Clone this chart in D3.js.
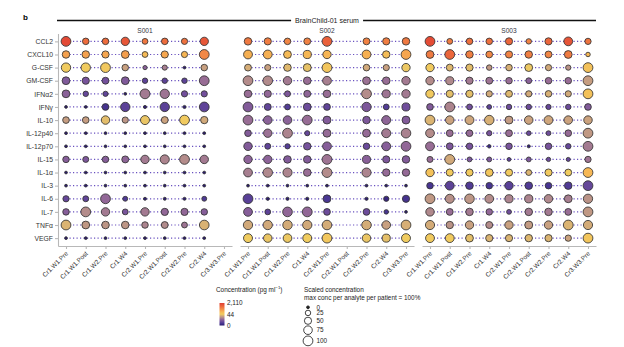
<!DOCTYPE html>
<html>
<head>
<meta charset="utf-8">
<script src="https://cdnjs.cloudflare.com/ajax/libs/d3/7.8.5/d3.min.js"></script>
<style>
  body { margin: 0; background: #fff; }
  svg { display: block; font-family: "Liberation Sans", Arial, sans-serif; }
  .axis path, .axis line { stroke: #b8b8b8; stroke-width: 1.1px; }
  .axis text { fill: #333; }
  .dot { stroke: #333; stroke-width: 0.85px; }
  .link { fill: none; stroke: #6a52c0; stroke-width: 1.2px; stroke-dasharray: 1.2 2.3; }
</style>
</head>
<body>
<script>

var analytes = ["CCL2", "CXCL10", "G-CSF", "GM-CSF", "IFN\u03b12", "IFN\u03b3", "IL-10", "IL-12p40",
  "IL-12p70", "IL-15", "IL-1\u03b1", "IL-3", "IL-6", "IL-7", "TNF\u03b1", "VEGF"];

var timepoints = ["Cr1.W1.Pre", "Cr1.W1.Post", "Cr1.W2.Pre", "Cr1.W4", "Cr2.W1.Pre",
  "Cr2.W1.Post", "Cr2.W2.Pre", "Cr2.W4", "Cr3.W3.Pre"];

var patients = ["S001", "S002", "S003"];

// concentrations (pg/ml), one row per analyte, one column per timepoint; null = not sampled
var s001 = [
  [1500, 600, 600, 1050, 450, 600, 525, 1050, null],
  [165, 165, 150, 180, 90, 150, 105, 300, null],
  [47, 47, 52, 21, 6, 11, 0, 21, null],
  [4.8, 4, 3.6, 4.8, 2, 2, 2, 8, null],
  [6, 2.5, 2.2, 0, 10, 9, 3.5, 3.5, null],
  [0, 0, 0.9, 1.9, 0.05, 1.9, 0.05, 2.1, null],
  [20, 20, 35, 17, 40, 22, 48, 25, null],
  [0, 0, 0, 0, 0, 0, 0, 0, null],
  [0, 0, 0, 0, 0, 0, 0, 0, null],
  [5.5, 4.5, 5.5, 6.5, 10, 12, 14, 10, null],
  [0, 0, 0, 0, 0, 0, 0, 0, null],
  [0, 0, 0, 0, 0, 0, 0, 0, null],
  [2.5, 2.2, 7, 1.3, 0.1, 0.1, 0.1, 1.3, null],
  [5.5, 14, 10, 4.2, 10, 7, 7, 5.5, null],
  [30, 18, 17, 17, 12, 13.5, 9, 29, null],
  [0, 0, 0, 0, 0, 0, 0, 0, null]
];

var s002 = [
  [440, 400, 320, 360, 800, null, 360, 400, 440],
  [120, 120, 90, 100, 105, null, 120, 80, 150],
  [27, 21, 33, 38, 60, null, 25, 21, 42],
  [14, 13.5, 10, 8, 11, null, 8.5, 8, 10],
  [8, 7, 4.5, 6.5, 8, null, 14, 9, 10],
  [5, 2.3, 1.5, 3, 2.2, null, 4.5, 1.5, 3.3],
  [8, 6, 6, 7.8, 5, null, 4.5, 6.5, 5],
  [5, 8.5, 12, 2.5, 7.5, null, 7.5, 10, 11.5],
  [5, 2.2, 1.6, 3.8, 5.5, null, 2.8, 5.6, 7],
  [6.3, 6.3, 5, 5, 9, null, 5.8, 4.5, 5],
  [11, 13, 12, 8, 14, null, 12, 7.5, 7.5],
  [0, 0, 0, 0, 0, null, 0, 0, 0],
  [1.8, 0.05, 0.05, 0.05, 1.1, null, 0.05, 0.4, 0.9],
  [5.5, 2, 6.8, 7, 3, null, 3, 1, 0],
  [25, 25, 26, 25, 26.5, null, 26.5, 21, 28],
  [45, 40, 42, 45, 55, null, 40, 36, 45]
];

var s003 = [
  [1400, 420, 560, 560, 700, 350, 700, 1100, 500],
  [420, 700, 380, 300, 350, 380, 320, 420, 100],
  [48, 32, 35, 18, 28, 42, 25, 16, 70],
  [14, 13, 10, 9, 8, 6, 8, 8, 20],
  [50, 36, 36, 25, 32, 25, 28, 25, 70],
  [5, 12, 3.5, 2, 3, 3, 2.6, 3, 5],
  [30, 22, 24, 28, 19, 22, 24, 22, 22],
  [14, 8, 7.5, 4, 8, 2.8, 3.2, 7.5, 18],
  [8, 4.5, 4, 0.5, 4, 0.2, 4, 2.5, 10],
  [8, 25, 4.5, 4.5, 2, 4.5, 3, 2.5, 9],
  [70, 50, 50, 60, 50, 30, 50, 45, 100],
  [1, 2, 1.4, 1, 1.8, 1.4, 1, 1.4, 2.5],
  [18, 15, 17, 14, 12, 12, 13, 11, 16],
  [13, 8, 10, 7, 3.2, 10, 10, 8, 18],
  [26, 16, 21, 14, 21, 19, 21, 30, 26],
  [48, 48, 36, 30, 30, 32, 30, 22, 60]
];

var concTicks = [0, 44, 2110];
var sizeTicks = [0, 25, 50, 75, 100];

var panelData = [s001, s002, s003];

var width = 624, height = 347;

var svg = d3.select("body").append("svg")
    .attr("width", width)
    .attr("height", height);

// colour: log10(conc + 1), purple -> tan -> yellow -> red
var logMax = Math.log10(2111);
var colourStops = [0, 0.1, 0.2, 0.28, 0.35, 0.42, 0.5, 0.6, 0.72, 0.85, 1];
var colourRange = ["#2a1a70", "#4b3894", "#74509c", "#956a96", "#b28b8c", "#cfa67c",
  "#f0cc60", "#f6b855", "#f39048", "#ec683c", "#df3d33"];
var tColour = d3.scaleLinear().domain(colourStops).range(colourRange);
function colour(c) { return tColour(Math.log10(c + 1) / logMax); }

// size: share of the analyte max for that patient, area-linear
var r2 = d3.scaleLinear().domain([0, 1]).range([1.4 * 1.4, 4.9 * 4.9]);
function radius(p) { return Math.sqrt(r2(p)); }

var y = d3.scalePoint().domain(analytes).range([33.5, 246]).padding(0.6);

var panelW = 174, panelGap = 8, left = 58;

panelData.forEach(function(rows, i) {
  var x0 = left + i * (panelW + panelGap);
  var x = d3.scalePoint().domain(timepoints).range([x0, x0 + panelW]).padding(0.405);

  var g = svg.append("g");

  // x axis
  var xa = g.append("g")
      .attr("class", "axis")
      .attr("transform", "translate(0,246)")
      .call(d3.axisBottom(x).tickSize(3).tickSizeOuter(0));
  xa.selectAll("text")
      .attr("x", 0).attr("y", 0).attr("dy", 0)
      .attr("text-anchor", "end")
      .attr("font-size", 6.4)
      .attr("transform", "translate(2,8) rotate(-45)");

  if (i === 0) {
    var ya = g.append("g")
        .attr("class", "axis")
        .attr("transform", "translate(" + x0 + ",0)")
        .call(d3.axisLeft(y).tickSize(3).tickSizeOuter(0).tickPadding(2));
    ya.selectAll("text").attr("font-size", 6.8);
  }

  g.append("text")
      .attr("x", x0 + panelW / 2)
      .attr("y", 33)
      .attr("text-anchor", "middle")
      .attr("font-size", 6.6)
      .attr("fill", "#334")
      .text(patients[i]);

  rows.forEach(function(vals, r) {
    var pts = [];
    vals.forEach(function(v, c) { if (v !== null) pts.push({ t: timepoints[c], v: v }); });
    var mx = d3.max(pts, function(d) { return d.v; });

    g.append("path")
        .attr("class", "link")
        .attr("d", d3.line()
          .x(function(d) { return x(d.t); })
          .y(function() { return y(analytes[r]); })(pts));

    g.selectAll(".dot-" + r)
        .data(pts)
      .enter().append("circle")
        .attr("class", "dot")
        .attr("cx", function(d) { return x(d.t); })
        .attr("cy", y(analytes[r]))
        .attr("r", function(d) { return radius(mx > 0 ? d.v / mx : 0); })
        .attr("fill", function(d) { return colour(d.v); });
  });
});

// header
svg.append("text")
    .attr("x", 23).attr("y", 20)
    .attr("font-size", 8).attr("font-weight", "bold")
    .text("b");

var hdr = svg.append("text")
    .attr("x", 327).attr("y", 22.8)
    .attr("text-anchor", "middle")
    .attr("font-size", 7)
    .attr("fill", "#222")
    .text("BrainChild-01 serum");
var hb = hdr.node().getBBox();
svg.append("line").attr("x1", 57).attr("x2", hb.x - 4).attr("y1", 20.5).attr("y2", 20.5)
    .attr("stroke", "#111").attr("stroke-width", 1.5);
svg.append("line").attr("x1", hb.x + hb.width + 4).attr("x2", 596).attr("y1", 20.5).attr("y2", 20.5)
    .attr("stroke", "#111").attr("stroke-width", 1.5);

// colour legend
var cl = svg.append("g");
var ct = cl.append("text").attr("x", 216).attr("y", 292).attr("font-size", 6.4).attr("fill", "#222");
ct.append("tspan").text("Concentration (pg ml");
ct.append("tspan").attr("dy", -2.6).attr("font-size", 4.4).text("\u22121");
ct.append("tspan").attr("dy", 2.6).text(")");

var grad = svg.append("defs").append("linearGradient")
    .attr("id", "cgrad").attr("x1", 0).attr("x2", 0).attr("y1", 1).attr("y2", 0);
colourStops.forEach(function(s, k) {
  grad.append("stop").attr("offset", s).attr("stop-color", colourRange[k]);
});

var yLeg = d3.scaleLinear().domain([0, logMax]).range([325.5, 303]);
cl.append("rect")
    .attr("x", 219.5).attr("y", yLeg(logMax))
    .attr("width", 5).attr("height", yLeg(0) - yLeg(logMax))
    .attr("fill", "url(#cgrad)");
cl.selectAll(".ctick")
    .data(concTicks)
  .enter().append("text")
    .attr("x", 227)
    .attr("y", function(d) { return yLeg(Math.log10(d + 1)); })
    .attr("dy", "0.35em")
    .attr("font-size", 6.4)
    .attr("fill", "#222")
    .text(function(d) { return d3.format(",")(d); });

// size legend
var sl = svg.append("g");
sl.append("text").attr("x", 304).attr("y", 292).attr("font-size", 6.4).attr("fill", "#222")
    .text("Scaled concentration");
sl.append("text").attr("x", 304).attr("y", 300).attr("font-size", 6.4).attr("fill", "#222")
    .text("max conc per analyte per patient = 100%");

var ly = [], cur = 307.3;
sizeTicks.forEach(function(s, k) {
  if (k > 0) cur += radius(sizeTicks[k - 1] / 100) + radius(s / 100) + 1.5;
  ly.push(cur);
});
var keys = sl.selectAll(".skey")
    .data(sizeTicks)
  .enter().append("g")
    .attr("transform", function(d, k) { return "translate(308," + ly[k] + ")"; });
keys.append("circle")
    .attr("r", function(d) { return radius(d / 100); })
    .attr("fill", function(d) { return d === 0 ? "#222" : "none"; })
    .attr("stroke", "#222")
    .attr("stroke-width", 0.85);
keys.append("text")
    .attr("x", 8.5).attr("dy", "0.35em")
    .attr("font-size", 6.4).attr("fill", "#222")
    .text(function(d) { return d; });

</script>
</body>
</html>
